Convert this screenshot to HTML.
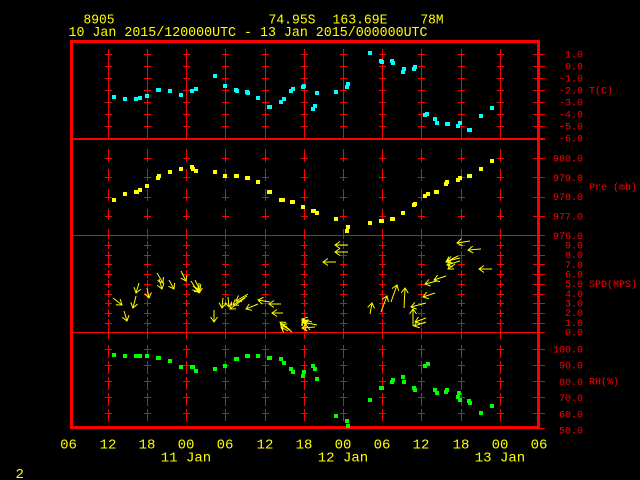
<!DOCTYPE html>
<html>
<head>
<meta charset="utf-8">
<style>
html,body{margin:0;padding:0;background:#000;}
svg{display:block;}
text{font-family:"Liberation Mono",monospace;}
</style>
</head>
<body>
<svg width="640" height="480" viewBox="0 0 640 480" xmlns="http://www.w3.org/2000/svg">
<defs>
<marker id="ah" markerWidth="12" markerHeight="12" refX="0" refY="0" orient="auto" markerUnits="userSpaceOnUse" viewBox="-6 -6 12 12" overflow="visible">
<path d="M-5,-3.5 L0,0 L-5,3.5" stroke="#ffff00" fill="none" stroke-width="1"/>
</marker>
<g id="cT" stroke="#ff0000" stroke-width="1" fill="none">
<path d="M0.5 49V138 M-3 54.5H4 M-3 66.5H4 M-3 78.5H4 M-3 90.5H4 M-3 102.5H4 M-3 114.5H4 M-3 126.5H4"/>
</g>
<g id="cP" stroke="#ff0000" stroke-width="1" fill="none">
<path d="M0.5 149V162 M0.5 169V181 M0.5 189V201 M0.5 209V220 M0.5 229V239 M-3 158.5H4 M-3 177.5H4 M-3 197.5H4 M-3 216.5H4"/>
</g>
<g id="cW" stroke="#ff0000" stroke-width="1" fill="none">
<path d="M0.5 241V249 M0.5 251V259 M0.5 260V268 M0.5 270V278 M0.5 280V288 M0.5 290V298 M0.5 299V307 M0.5 309V317 M0.5 319V327 M0.5 328V339 M-3 245.5H4 M-3 255.5H4 M-3 264.5H4 M-3 274.5H4 M-3 284.5H4 M-3 294.5H4 M-3 303.5H4 M-3 313.5H4 M-3 323.5H4"/>
</g>
<g id="cR" stroke="#ff0000" stroke-width="1" fill="none">
<path d="M0.5 345V358 M0.5 361V374 M0.5 377V390 M0.5 393V406 M0.5 409V421 M-3 349.5H4 M-3 365.5H4 M-3 381.5H4 M-3 397.5H4 M-3 413.5H4"/>
</g>
<g id="col">
<use href="#cT"/><use href="#cP"/><use href="#cW"/><use href="#cR"/>
</g>
</defs>

<rect x="0" y="0" width="640" height="480" fill="#000"/>

<g fill="#ffff00" font-size="14">
<text x="83.5" y="23.3" textLength="31" lengthAdjust="spacingAndGlyphs">8905</text>
<text x="268.5" y="23.3" textLength="47" lengthAdjust="spacingAndGlyphs">74.95S</text>
<text x="332.5" y="23.3" textLength="55" lengthAdjust="spacingAndGlyphs">163.69E</text>
<text x="420.5" y="23.3" textLength="23" lengthAdjust="spacingAndGlyphs">78M</text>
<text x="68.5" y="36" textLength="359" lengthAdjust="spacingAndGlyphs">10 Jan 2015/120000UTC - 13 Jan 2015/000000UTC</text>
</g>

<use href="#col" x="108"/>
<use href="#col" x="147"/>
<use href="#col" x="186"/>
<use href="#col" x="225"/>
<use href="#col" x="265"/>
<use href="#col" x="304"/>
<use href="#col" x="343"/>
<use href="#col" x="382"/>
<use href="#col" x="421"/>
<use href="#col" x="461"/>
<use href="#col" x="500"/>

<g stroke="#ff0000" fill="none">
<path d="M72 139H545" stroke-width="2"/>
<path d="M72 235.5H545 M72 332.5H545" stroke-width="1"/>
<path stroke-width="1" d="M533 54.5H545 M533 66.5H545 M533 78.5H545 M533 90.5H545 M533 102.5H545 M533 114.5H545 M533 126.5H545 M533 158.5H545 M533 177.5H545 M533 197.5H545 M533 216.5H545 M533 245.5H545 M533 255.5H545 M533 264.5H545 M533 274.5H545 M533 284.5H545 M533 294.5H545 M533 303.5H545 M533 313.5H545 M533 323.5H545 M533 349.5H545 M533 365.5H545 M533 381.5H545 M533 397.5H545 M533 413.5H545 M533 428.5H545"/>
</g>

<rect x="71.5" y="41.5" width="467" height="386" fill="none" stroke="#ff0000" stroke-width="3"/>

<g fill="#ff0000" font-size="10" text-anchor="end">
<text x="583" y="57.5">1.0</text>
<text x="583" y="69.5">0.0</text>
<text x="583" y="81.5">-1.0</text>
<text x="583" y="93.5">-2.0</text>
<text x="583" y="105.5">-3.0</text>
<text x="583" y="117.5">-4.0</text>
<text x="583" y="129.5">-5.0</text>
<text x="583" y="141.7">-6.0</text>
<text x="583" y="161.5">980.0</text>
<text x="583" y="180.8">979.0</text>
<text x="583" y="200.2">978.0</text>
<text x="583" y="219.5">977.0</text>
<text x="583" y="238.8">976.0</text>
<text x="583" y="248.5">9.0</text>
<text x="583" y="258.2">8.0</text>
<text x="583" y="267.8">7.0</text>
<text x="583" y="277.5">6.0</text>
<text x="583" y="287.2">5.0</text>
<text x="583" y="296.8">4.0</text>
<text x="583" y="306.5">3.0</text>
<text x="583" y="316.2">2.0</text>
<text x="583" y="325.8">1.0</text>
<text x="583" y="335.5">0.0</text>
<text x="583" y="352.5">100.0</text>
<text x="583" y="368.7">90.0</text>
<text x="583" y="384.9">80.0</text>
<text x="583" y="401.1">70.0</text>
<text x="583" y="417.3">60.0</text>
<text x="583" y="433.5">50.0</text>
</g>
<g fill="#ff0000" font-size="10">
<text x="589" y="93.5">T(C)</text>
<text x="589" y="190">Pre (mb)</text>
<text x="589" y="287">SPD(MPS)</text>
<text x="589" y="384.5">RH(%)</text>
</g>

<g fill="#ffff00" font-size="14" text-anchor="middle">
<text x="68.5" y="448.7">06</text>
<text x="108" y="448.7">12</text>
<text x="147" y="448.7">18</text>
<text x="186" y="448.7">00</text>
<text x="225" y="448.7">06</text>
<text x="265" y="448.7">12</text>
<text x="304" y="448.7">18</text>
<text x="343" y="448.7">00</text>
<text x="382" y="448.7">06</text>
<text x="421" y="448.7">12</text>
<text x="461" y="448.7">18</text>
<text x="500" y="448.7">00</text>
<text x="539" y="448.7">06</text>
<text x="186" y="461.3">11 Jan</text>
<text x="343" y="461.3">12 Jan</text>
<text x="500" y="461.3">13 Jan</text>
</g>
<text x="15.5" y="478" fill="#ffff00" font-size="14">2</text>

<g fill="#00ffff">
<rect x="112" y="95" width="4" height="4"/>
<rect x="123" y="97" width="4" height="4"/>
<rect x="134" y="97" width="4" height="4"/>
<rect x="138" y="96" width="4" height="4"/>
<rect x="145" y="94" width="4" height="4"/>
<rect x="156" y="88" width="5" height="4"/>
<rect x="168" y="89" width="4" height="4"/>
<rect x="179" y="93" width="4" height="4"/>
<rect x="190" y="89" width="4" height="4"/>
<rect x="194" y="87" width="4" height="4"/>
<rect x="213" y="74" width="4" height="4"/>
<rect x="223" y="84" width="4" height="4"/>
<rect x="234" y="88" width="4" height="4"/>
<rect x="235" y="89" width="4" height="4"/>
<rect x="245" y="90" width="4" height="4"/>
<rect x="246" y="91" width="4" height="4"/>
<rect x="256" y="96" width="4" height="4"/>
<rect x="267" y="105" width="5" height="4"/>
<rect x="279" y="100" width="4" height="4"/>
<rect x="282" y="97" width="4" height="4"/>
<rect x="289" y="89" width="4" height="4"/>
<rect x="291" y="87" width="4" height="4"/>
<rect x="301" y="85" width="4" height="4"/>
<rect x="302" y="84" width="4" height="4"/>
<rect x="311" y="107" width="4" height="4"/>
<rect x="313" y="104" width="4" height="4"/>
<rect x="315" y="91" width="4" height="4"/>
<rect x="334" y="90" width="4" height="4"/>
<rect x="345" y="85" width="4" height="4"/>
<rect x="346" y="82" width="4" height="4"/>
<rect x="368" y="51" width="4" height="4"/>
<rect x="379" y="59" width="4" height="4"/>
<rect x="380" y="60" width="4" height="4"/>
<rect x="390" y="59" width="4" height="4"/>
<rect x="391" y="61" width="4" height="4"/>
<rect x="401" y="70" width="4" height="4"/>
<rect x="402" y="67" width="4" height="4"/>
<rect x="412" y="67" width="4" height="4"/>
<rect x="413" y="65" width="4" height="4"/>
<rect x="423" y="113" width="4" height="4"/>
<rect x="425" y="112" width="4" height="4"/>
<rect x="433" y="117" width="4" height="4"/>
<rect x="435" y="121" width="4" height="4"/>
<rect x="445" y="122" width="5" height="4"/>
<rect x="456" y="124" width="4" height="4"/>
<rect x="458" y="121" width="4" height="4"/>
<rect x="467" y="128" width="5" height="4"/>
<rect x="479" y="114" width="4" height="4"/>
<rect x="490" y="106" width="4" height="4"/>
</g>

<g fill="#ffff00">
<rect x="112" y="198" width="4" height="4"/>
<rect x="123" y="192" width="4" height="4"/>
<rect x="134" y="190" width="5" height="4"/>
<rect x="138" y="188" width="4" height="4"/>
<rect x="145" y="184" width="4" height="4"/>
<rect x="156" y="176" width="4" height="4"/>
<rect x="157" y="174" width="4" height="4"/>
<rect x="168" y="170" width="4" height="4"/>
<rect x="179" y="167" width="4" height="4"/>
<rect x="190" y="165" width="4" height="4"/>
<rect x="191" y="167" width="4" height="4"/>
<rect x="194" y="169" width="4" height="4"/>
<rect x="213" y="170" width="4" height="4"/>
<rect x="223" y="174" width="4" height="4"/>
<rect x="234" y="174" width="5" height="4"/>
<rect x="245" y="176" width="5" height="4"/>
<rect x="256" y="180" width="4" height="4"/>
<rect x="267" y="190" width="5" height="4"/>
<rect x="279" y="198" width="6" height="4"/>
<rect x="290" y="200" width="5" height="4"/>
<rect x="301" y="205" width="4" height="4"/>
<rect x="311" y="209" width="5" height="4"/>
<rect x="315" y="211" width="4" height="4"/>
<rect x="334" y="217" width="4" height="4"/>
<rect x="346" y="225" width="4" height="4"/>
<rect x="345" y="229" width="4" height="4"/>
<rect x="368" y="221" width="4" height="4"/>
<rect x="379" y="219" width="5" height="4"/>
<rect x="390" y="217" width="5" height="4"/>
<rect x="401" y="211" width="4" height="4"/>
<rect x="412" y="203" width="4" height="4"/>
<rect x="413" y="202" width="4" height="4"/>
<rect x="423" y="194" width="4" height="4"/>
<rect x="426" y="192" width="4" height="4"/>
<rect x="434" y="190" width="5" height="4"/>
<rect x="444" y="182" width="4" height="4"/>
<rect x="445" y="180" width="4" height="4"/>
<rect x="456" y="178" width="4" height="4"/>
<rect x="458" y="176" width="4" height="4"/>
<rect x="467" y="174" width="5" height="4"/>
<rect x="479" y="167" width="4" height="4"/>
<rect x="490" y="159" width="4" height="4"/>
</g>

<g fill="#00ff00">
<rect x="112" y="353" width="4" height="4"/>
<rect x="123" y="354" width="4" height="4"/>
<rect x="134" y="354" width="6" height="4"/>
<rect x="138" y="354" width="4" height="4"/>
<rect x="145" y="354" width="4" height="4"/>
<rect x="156" y="356" width="5" height="4"/>
<rect x="168" y="359" width="4" height="4"/>
<rect x="179" y="365" width="4" height="4"/>
<rect x="190" y="365" width="5" height="4"/>
<rect x="194" y="369" width="4" height="4"/>
<rect x="213" y="367" width="4" height="4"/>
<rect x="223" y="364" width="4" height="4"/>
<rect x="234" y="357" width="5" height="4"/>
<rect x="245" y="354" width="5" height="4"/>
<rect x="256" y="354" width="4" height="4"/>
<rect x="267" y="356" width="5" height="4"/>
<rect x="279" y="357" width="4" height="4"/>
<rect x="282" y="361" width="4" height="4"/>
<rect x="289" y="367" width="4" height="4"/>
<rect x="291" y="370" width="4" height="4"/>
<rect x="301" y="374" width="4" height="4"/>
<rect x="302" y="370" width="4" height="4"/>
<rect x="311" y="364" width="4" height="4"/>
<rect x="313" y="367" width="4" height="4"/>
<rect x="315" y="377" width="4" height="4"/>
<rect x="334" y="414" width="4" height="4"/>
<rect x="345" y="419" width="4" height="4"/>
<rect x="346" y="424" width="4" height="4"/>
<rect x="368" y="398" width="4" height="4"/>
<rect x="379" y="386" width="5" height="4"/>
<rect x="390" y="380" width="4" height="4"/>
<rect x="391" y="378" width="4" height="4"/>
<rect x="401" y="375" width="4" height="4"/>
<rect x="402" y="380" width="4" height="4"/>
<rect x="412" y="386" width="4" height="4"/>
<rect x="413" y="388" width="4" height="4"/>
<rect x="423" y="364" width="4" height="4"/>
<rect x="426" y="362" width="4" height="4"/>
<rect x="433" y="388" width="4" height="4"/>
<rect x="435" y="391" width="4" height="4"/>
<rect x="444" y="390" width="4" height="4"/>
<rect x="445" y="388" width="4" height="4"/>
<rect x="456" y="395" width="4" height="4"/>
<rect x="457" y="391" width="4" height="4"/>
<rect x="458" y="398" width="4" height="4"/>
<rect x="467" y="399" width="4" height="4"/>
<rect x="468" y="401" width="4" height="4"/>
<rect x="479" y="411" width="4" height="4"/>
<rect x="490" y="404" width="4" height="4"/>
</g>

<g stroke="#ffff00" stroke-width="1" fill="none" marker-end="url(#ah)">
<line x1="113" y1="298" x2="122" y2="305"/>
<line x1="124" y1="311" x2="127" y2="321"/>
<line x1="136" y1="296" x2="133" y2="308"/>
<line x1="139" y1="283" x2="136" y2="293"/>
<line x1="147" y1="288" x2="149" y2="298"/>
<line x1="157" y1="273" x2="163" y2="283"/>
<line x1="159" y1="279" x2="162" y2="289"/>
<line x1="169" y1="280" x2="174" y2="289"/>
<line x1="181" y1="271" x2="186" y2="281"/>
<line x1="191" y1="281" x2="198" y2="292"/>
<line x1="195" y1="280" x2="200" y2="290"/>
<line x1="199" y1="283" x2="199" y2="293"/>
<line x1="193" y1="286" x2="200" y2="292"/>
<line x1="214" y1="310" x2="214" y2="322"/>
<line x1="223" y1="298" x2="222" y2="308"/>
<line x1="245" y1="298" x2="230" y2="309"/>
<line x1="247" y1="296" x2="233" y2="305"/>
<line x1="248" y1="294" x2="236" y2="301"/>
<line x1="228" y1="297" x2="229" y2="307"/>
<line x1="258" y1="304" x2="246" y2="309"/>
<line x1="270" y1="302" x2="258" y2="300"/>
<line x1="281" y1="304" x2="269" y2="304"/>
<line x1="283" y1="313" x2="272" y2="313"/>
<line x1="292" y1="332" x2="281" y2="324"/>
<line x1="290" y1="330" x2="280" y2="322"/>
<line x1="288" y1="331" x2="281" y2="327"/>
<line x1="310" y1="330" x2="302" y2="320"/>
<line x1="306" y1="331" x2="304" y2="320"/>
<line x1="317" y1="325" x2="303" y2="322"/>
<line x1="315" y1="327" x2="302" y2="328"/>
<line x1="312" y1="322" x2="302" y2="319"/>
<line x1="348" y1="245" x2="335" y2="245"/>
<line x1="348" y1="252" x2="335" y2="252"/>
<line x1="336" y1="262" x2="323" y2="262"/>
<line x1="370" y1="314" x2="372" y2="303"/>
<line x1="381" y1="312" x2="387" y2="296"/>
<line x1="391" y1="302" x2="397" y2="285"/>
<line x1="404" y1="308" x2="405" y2="288"/>
<line x1="426" y1="303" x2="411" y2="307"/>
<line x1="413" y1="326" x2="413" y2="309"/>
<line x1="426" y1="318" x2="415" y2="322"/>
<line x1="426" y1="322" x2="414" y2="326"/>
<line x1="435" y1="293" x2="423" y2="297"/>
<line x1="446" y1="276" x2="434" y2="280"/>
<line x1="437" y1="281" x2="425" y2="284"/>
<line x1="460" y1="258" x2="447" y2="261"/>
<line x1="460" y1="261" x2="447" y2="265"/>
<line x1="458" y1="256" x2="446" y2="262"/>
<line x1="455" y1="264" x2="448" y2="269"/>
<line x1="470" y1="241" x2="457" y2="243"/>
<line x1="481" y1="249" x2="468" y2="250"/>
<line x1="492" y1="269" x2="479" y2="269"/>
</g>
</svg>
</body>
</html>
